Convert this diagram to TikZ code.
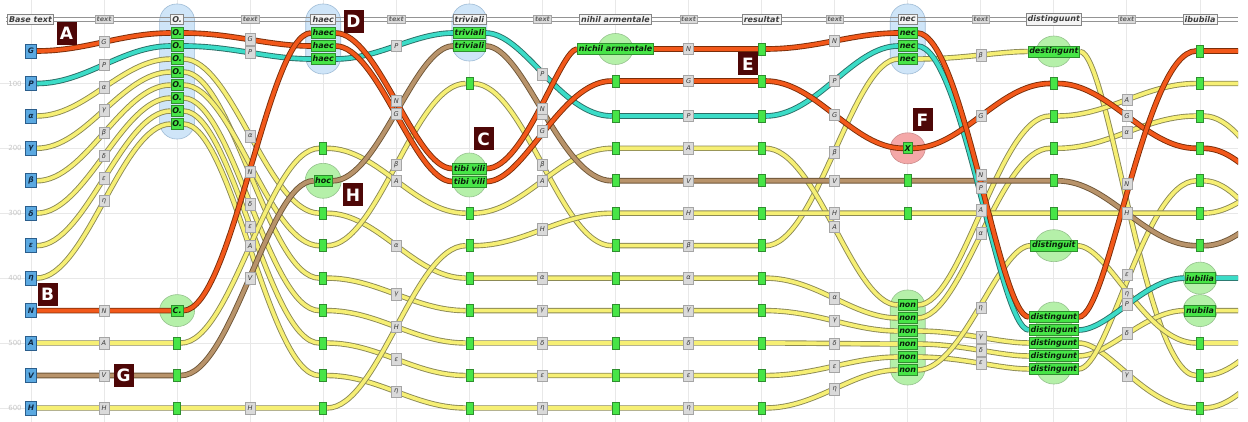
\documentclass[tikz,border=0pt]{standalone}
\usepackage{fontspec}
\newfontfamily\dv{DejaVu Sans}
\pgfdeclarelayer{back}
\pgfdeclarelayer{thr}
\pgfsetlayers{back,thr,main}
\definecolor{yelf}{HTML}{F6EF74}
\definecolor{yelbd}{HTML}{8C8A55}
\definecolor{orgf}{HTML}{F2581A}
\definecolor{orgbd}{HTML}{7A2E0A}
\definecolor{cyaf}{HTML}{3BDCC7}
\definecolor{cyabd}{HTML}{2B6E66}
\definecolor{brnf}{HTML}{B8936A}
\definecolor{brnbd}{HTML}{6E5638}
\definecolor{grfill}{HTML}{47E547}
\definecolor{grbd}{HTML}{2F8F2F}
\definecolor{grtext}{HTML}{0A1F0A}
\definecolor{gbgf}{HTML}{B5F0A9}
\definecolor{gbgbd}{HTML}{95C28D}
\definecolor{bbgf}{HTML}{CFE5F8}
\definecolor{bbgbd}{HTML}{9FBCD6}
\definecolor{rbgf}{HTML}{F4A8A8}
\definecolor{rbgbd}{HTML}{CC8C8C}
\definecolor{basef}{HTML}{5BA9E1}
\definecolor{basebd}{HTML}{2B5E8C}
\definecolor{basetx}{HTML}{102A44}
\definecolor{labf}{HTML}{DADADA}
\definecolor{labbd}{HTML}{A5A5A5}
\definecolor{labtx}{HTML}{3A3A3A}
\definecolor{tagf}{HTML}{4E0707}
\definecolor{gridc}{HTML}{E8E8E8}
\definecolor{hdrf}{HTML}{F4F4F4}
\definecolor{hdrbd}{HTML}{858585}
\definecolor{hdrtx}{HTML}{3C3C3C}
\def\Sc{.. controls +(55,0) and +(-55,0) ..}
\tikzset{
  basesq/.style={draw=basebd, fill=basef, line width=0.6pt, minimum width=11pt, minimum height=14pt, inner sep=0pt, text=basetx, font=\dv\bfseries\itshape\fontsize{7.5}{7.5}\selectfont},
  thlab/.style={draw=labbd, fill=labf, line width=0.5pt, minimum width=10pt, minimum height=11.5pt, inner sep=0.8pt, text=labtx, font=\dv\itshape\fontsize{6.6}{6.6}\selectfont},
  grsq/.style={draw=grbd, fill=grfill, line width=0.6pt, minimum width=7pt, minimum height=12pt, inner sep=0pt},
  grtx/.style={draw=grbd, fill=grfill, line width=0.6pt, minimum height=11pt, inner sep=1.3pt, text=grtext, font=\dv\bfseries\itshape\fontsize{8}{8}\selectfont},
  hdrbox/.style={draw=hdrbd, fill=hdrf, line width=0.6pt, minimum height=10.5pt, inner sep=1.8pt, text=hdrtx, font=\dv\bfseries\itshape\fontsize{8}{8}\selectfont},
  txtbox/.style={draw=labbd, fill=labf, line width=0.5pt, minimum height=8.5pt, inner sep=1.3pt, text=black!60, font=\dv\bfseries\itshape\fontsize{6.5}{6.5}\selectfont},
  lettag/.style={fill=tagf, minimum width=20pt, minimum height=23pt, inner sep=0pt, text=white, font=\dv\bfseries\fontsize{17}{17}\selectfont},
  gridlab/.style={inner sep=1pt, text=black!22, font=\dv\fontsize{7}{7}\selectfont},
  gridln/.style={draw=gridc, line width=0.9pt},
  hdrln/.style={draw=black!42, line width=0.8pt},
  bluebg/.style={draw=bbgbd, fill=bbgf, line width=0.6pt, rounded corners=17pt},
  greenbg/.style={draw=gbgbd, fill=gbgf, line width=0.6pt, rounded corners=17pt},
  thY/.style={draw=yelbd, double=yelf, double distance=3.6pt, line width=0.9pt},
  thO/.style={draw=orgbd, double=orgf, double distance=3.8pt, line width=0.9pt},
  thC/.style={draw=cyabd, double=cyaf, double distance=3.8pt, line width=0.9pt},
  thB/.style={draw=brnbd, double=brnf, double distance=3.8pt, line width=0.9pt},
}
\begin{document}
\begin{tikzpicture}[x=1pt,y=-1pt]
\useasboundingbox (0,0) rectangle (1248,422);
\begin{pgfonlayer}{back}
\fill[white] (0,0) rectangle (1248,422);
\foreach \k in {0,...,16} \draw[gridln] ({31+73.0625*\k},0) -- ({31+73.0625*\k},422);
\foreach \yy in {83.5,148.3,213.2,278.1,343,408} \draw[gridln] (0,\yy) -- (1238,\yy);
% group backgrounds
\draw[bluebg] (159.6,4) rectangle (194.6,139);
\draw[bluebg] (305.7,4) rectangle (340.7,74);
\draw[bluebg] (451.9,4) rectangle (486.9,61);
\draw[bluebg] (890.2,4) rectangle (925.2,74);
\draw[greenbg] (452.4,153) rectangle (486.4,197);
\draw[greenbg] (890.2,290) rectangle (925.2,385);
\draw[greenbg] (1036.3,302) rectangle (1071.3,384);
\draw[draw=gbgbd, fill=gbgf, line width=0.6pt] (177.1,310.6) ellipse [x radius=17.5pt, y radius=16pt];
\draw[draw=gbgbd, fill=gbgf, line width=0.6pt] (323.2,180.8) ellipse [x radius=18pt, y radius=17.5pt];
\draw[draw=gbgbd, fill=gbgf, line width=0.6pt] (615.5,49) ellipse [x radius=17.5pt, y radius=15.5pt];
\draw[draw=rbgbd, fill=rbgf, line width=0.6pt] (907.7,148.3) ellipse [x radius=17.5pt, y radius=15.5pt];
\draw[draw=gbgbd, fill=gbgf, line width=0.6pt] (1053.8,51.5) ellipse [x radius=17.5pt, y radius=15.5pt];
\draw[draw=gbgbd, fill=gbgf, line width=0.6pt] (1053.8,245.7) ellipse [x radius=19pt, y radius=16pt];
\draw[draw=gbgbd, fill=gbgf, line width=0.6pt] (1200,278.1) ellipse [x radius=17pt, y radius=16pt];
\draw[draw=gbgbd, fill=gbgf, line width=0.6pt] (1200,310.6) ellipse [x radius=17pt, y radius=16pt];
% header line
\draw[hdrln] (6,17.8) -- (1238,17.8);
\draw[hdrln] (6,21.2) -- (1238,21.2);
\end{pgfonlayer}
% grid labels
\node[gridlab] (gl1) at (15,83.5) {100};
\node[gridlab] (gl2) at (15,148.3) {200};
\node[gridlab] (gl3) at (15,213.2) {300};
\node[gridlab] (gl4) at (15,278.1) {400};
\node[gridlab] (gl5) at (15,343) {500};
\node[gridlab] (gl6) at (15,408) {600};
% header
\node[hdrbox] (h0) at (30.5,19.5) {Base text};
\node[hdrbox] (h2) at (177.1,19.5) {O.};
\node[hdrbox] (h4) at (323.2,19.5) {haec};
\node[hdrbox] (h6) at (469.4,19.5) {triviali};
\node[hdrbox] (h8) at (615.5,19.5) {nihil armentale};
\node[hdrbox] (h10) at (761.6,19.5) {resultat};
\node[hdrbox] (h12) at (907.7,19.5) {nec};
\node[hdrbox] (h14) at (1053.8,19.5) {distinguunt};
\node[hdrbox] (h16) at (1200,19.5) {ibubila};
\foreach \k in {1,3,...,15} \node[txtbox] (t\k) at ({31+73.0625*\k},19.5) {text};
% column 0
\node[basesq] (G0) at (31,51) {G};
\node[basesq] (P0) at (31,83.5) {P};
\node[basesq] (al0) at (31,116) {α};
\node[basesq] (ga0) at (31,148.3) {γ};
\node[basesq] (be0) at (31,180.8) {β};
\node[basesq] (de0) at (31,213.2) {δ};
\node[basesq] (ep0) at (31,245.7) {ε};
\node[basesq] (et0) at (31,278.1) {η};
\node[basesq] (N0) at (31,310.6) {N};
\node[basesq] (A0) at (31,343) {A};
\node[basesq] (V0) at (31,375.5) {V};
\node[basesq] (H0) at (31,408) {H};
% column 2
\node[grtx] (G2) at (177.1,33) {O.};
\node[grtx] (P2) at (177.1,46) {O.};
\node[grtx] (al2) at (177.1,59) {O.};
\node[grtx] (ga2) at (177.1,72) {O.};
\node[grtx] (be2) at (177.1,85) {O.};
\node[grtx] (de2) at (177.1,98) {O.};
\node[grtx] (ep2) at (177.1,111) {O.};
\node[grtx] (et2) at (177.1,124) {O.};
\node[grtx] (N2) at (177.1,310.6) {C.};
\node[grsq] (A2) at (177.1,343) {};
\node[grsq] (V2) at (177.1,375.5) {};
\node[grsq] (H2) at (177.1,408) {};
% column 4
\node[grtx] (N4) at (323.2,33) {haec};
\node[grtx] (G4) at (323.2,46) {haec};
\node[grtx] (P4) at (323.2,59) {haec};
\node[grsq] (A4) at (323.2,148.3) {};
\node[grtx] (V4) at (323.2,180.8) {hoc};
\node[grsq] (al4) at (323.2,213.2) {};
\node[grsq] (be4) at (323.2,245.7) {};
\node[grsq] (ga4) at (323.2,278.1) {};
\node[grsq] (de4) at (323.2,310.6) {};
\node[grsq] (ep4) at (323.2,343) {};
\node[grsq] (et4) at (323.2,375.5) {};
\node[grsq] (H4) at (323.2,408) {};
% column 6
\node[grtx] (P6) at (469.4,33) {triviali};
\node[grtx] (V6) at (469.4,46) {triviali};
\node[grsq] (be6) at (469.4,83.5) {};
\node[grtx] (N6) at (469.4,168.5) {tibi vili};
\node[grtx] (G6) at (469.4,181.5) {tibi vili};
\node[grsq] (A6) at (469.4,213.2) {};
\node[grsq] (H6) at (469.4,245.7) {};
\node[grsq] (al6) at (469.4,278.1) {};
\node[grsq] (ga6) at (469.4,310.6) {};
\node[grsq] (de6) at (469.4,343) {};
\node[grsq] (ep6) at (469.4,375.5) {};
\node[grsq] (et6) at (469.4,408) {};
% column 8
\node[grtx] (N8) at (615.5,49) {nichil armentale};
\node[grsq] (G8) at (615.5,81) {};
\node[grsq] (P8) at (615.5,116) {};
\node[grsq] (A8) at (615.5,148.3) {};
\node[grsq] (V8) at (615.5,180.8) {};
\node[grsq] (H8) at (615.5,213.2) {};
\node[grsq] (be8) at (615.5,245.7) {};
\node[grsq] (al8) at (615.5,278.1) {};
\node[grsq] (ga8) at (615.5,310.6) {};
\node[grsq] (de8) at (615.5,343) {};
\node[grsq] (ep8) at (615.5,375.5) {};
\node[grsq] (et8) at (615.5,408) {};
% column 10
\node[grsq] (N10) at (761.6,49) {};
\node[grsq] (G10) at (761.6,81) {};
\node[grsq] (P10) at (761.6,116) {};
\node[grsq] (A10) at (761.6,148.3) {};
\node[grsq] (V10) at (761.6,180.8) {};
\node[grsq] (H10) at (761.6,213.2) {};
\node[grsq] (be10) at (761.6,245.7) {};
\node[grsq] (al10) at (761.6,278.1) {};
\node[grsq] (ga10) at (761.6,310.6) {};
\node[grsq] (de10) at (761.6,343) {};
\node[grsq] (ep10) at (761.6,375.5) {};
\node[grsq] (et10) at (761.6,408) {};
% column 12
\node[grtx] (N12) at (907.7,33) {nec};
\node[grtx] (P12) at (907.7,46) {nec};
\node[grtx] (be12) at (907.7,59) {nec};
\node[grtx] (G12) at (907.7,148.3) {X};
\node[grsq] (V12) at (907.7,180.8) {};
\node[grsq] (H12) at (907.7,213.2) {};
\node[grtx] (A12) at (907.7,305) {non};
\node[grtx] (al12) at (907.7,318) {non};
\node[grtx] (ga12) at (907.7,331) {non};
\node[grtx] (de12) at (907.7,344) {non};
\node[grtx] (ep12) at (907.7,357) {non};
\node[grtx] (et12) at (907.7,370) {non};
% column 14
\node[grtx] (be14) at (1053.8,51.5) {destingunt};
\node[grsq] (G14) at (1053.8,83.5) {};
\node[grsq] (A14) at (1053.8,116) {};
\node[grsq] (al14) at (1053.8,148.3) {};
\node[grsq] (V14) at (1053.8,180.8) {};
\node[grsq] (H14) at (1053.8,213.2) {};
\node[grtx] (et14) at (1053.8,245.7) {distinguit};
\node[grtx] (N14) at (1053.8,317) {distingunt};
\node[grtx] (P14) at (1053.8,330) {distingunt};
\node[grtx] (ga14) at (1053.8,343) {distingunt};
\node[grtx] (de14) at (1053.8,356) {distingunt};
\node[grtx] (ep14) at (1053.8,369) {distingunt};
% column 16
\node[grsq] (N16) at (1200,51) {};
\node[grsq] (A16) at (1200,83.5) {};
\node[grsq] (al16) at (1200,116) {};
\node[grsq] (G16) at (1200,148.3) {};
\node[grsq] (ep16) at (1200,180.8) {};
\node[grsq] (H16) at (1200,213.2) {};
\node[grsq] (V16) at (1200,245.7) {};
\node[grtx] (P16) at (1200,278.1) {iubilia};
\node[grtx] (de16) at (1200,310.6) {nubila};
\node[grsq] (et16) at (1200,343) {};
\node[grsq] (be16) at (1200,375.5) {};
\node[grsq] (ga16) at (1200,408) {};
% free ends beyond the right edge
\coordinate (Ne) at (1346,51);
\coordinate (Ae) at (1346,83.5);
\coordinate (ale) at (1346,250);
\coordinate (Ge) at (1346,242);
\coordinate (epe) at (1346,304);
\coordinate (He) at (1346,138);
\coordinate (Ve) at (1346,164);
\coordinate (Pe) at (1346,278.1);
\coordinate (dee) at (1346,310.6);
\coordinate (ete) at (1346,343);
\coordinate (bee) at (1346,282);
\coordinate (gae) at (1346,312);
% threads
\begin{pgfonlayer}{thr}
\begin{scope}
\clip (0,0) rectangle (1238,422);
\draw[thY] (al0) \Sc (al2) \Sc (al4) \Sc (al6) \Sc (al8) \Sc (al10) \Sc (al12) \Sc (al14) \Sc (al16) \Sc (ale);
\draw[thY] (ga0) \Sc (ga2) \Sc (ga4) \Sc (ga6) \Sc (ga8) \Sc (ga10) \Sc (ga12) \Sc (ga14) \Sc (ga16) \Sc (gae);
\draw[thY] (be0) \Sc (be2) \Sc (be4) \Sc (be6) \Sc (be8) \Sc (be10) \Sc (be12) \Sc (be14) \Sc (be16) \Sc (bee);
\draw[thY] (de0) \Sc (de2) \Sc (de4) \Sc (de6) \Sc (de8) \Sc (de10) \Sc (de12) \Sc (de14) \Sc (de16) \Sc (dee);
\draw[thY] (ep0) \Sc (ep2) \Sc (ep4) \Sc (ep6) \Sc (ep8) \Sc (ep10) \Sc (ep12) \Sc (ep14) \Sc (ep16) \Sc (epe);
\draw[thY] (et0) \Sc (et2) \Sc (et4) \Sc (et6) \Sc (et8) \Sc (et10) \Sc (et12) \Sc (et14) \Sc (et16) \Sc (ete);
\draw[thY] (A0) \Sc (A2) \Sc (A4) \Sc (A6) \Sc (A8) \Sc (A10) \Sc (A12) \Sc (A14) \Sc (A16) \Sc (Ae);
\draw[thY] (H0) \Sc (H2) \Sc (H4) \Sc (H6) \Sc (H8) \Sc (H10) \Sc (H12) \Sc (H14) \Sc (H16) \Sc (He);
\draw[thB] (V0) \Sc (V2) \Sc (V4) \Sc (V6) \Sc (V8) \Sc (V10) \Sc (V12) \Sc (V14) \Sc (V16) \Sc (Ve);
\draw[thC] (P0) \Sc (P2) \Sc (P4) \Sc (P6) \Sc (P8) \Sc (P10) \Sc (P12) \Sc (P14) \Sc (P16) \Sc (Pe);
\draw[thO] (G0) \Sc (G2) \Sc (G4) \Sc (G6) \Sc (G8) \Sc (G10) \Sc (G12) \Sc (G14) \Sc (G16) \Sc (Ge);
\draw[thO] (N0) \Sc (N2) \Sc (N4) \Sc (N6) \Sc (N8) \Sc (N10) \Sc (N12) \Sc (N14) \Sc (N16) \Sc (Ne);
\end{scope}
\end{pgfonlayer}
% labels column 1
\node[thlab] (lG1) at (104,42) {G};
\node[thlab] (lP1) at (104,64.8) {P};
\node[thlab] (lal1) at (104,87.5) {α};
\node[thlab] (lga1) at (104,110.2) {γ};
\node[thlab] (lbe1) at (104,132.9) {β};
\node[thlab] (lde1) at (104,155.6) {δ};
\node[thlab] (lep1) at (104,178.4) {ε};
\node[thlab] (let1) at (104,201) {η};
\node[thlab] (lN1) at (104,310.6) {N};
\node[thlab] (lA1) at (104,343) {A};
\node[thlab] (lV1) at (104,375.5) {V};
\node[thlab] (lH1) at (104,408) {H};
% column 3
\node[thlab] (lG3) at (250.2,39.5) {G};
\node[thlab] (lP3) at (250.2,52.5) {P};
\node[thlab] (lal3) at (250.2,136.1) {α};
\node[thlab] (lN3) at (250.2,171.8) {N};
\node[thlab] (lde3) at (250.2,204.3) {δ};
\node[thlab] (lep3) at (250.2,227) {ε};
\node[thlab] (lA3) at (250.2,245.7) {A};
\node[thlab] (lV3) at (250.2,278.2) {V};
\node[thlab] (lH3) at (250.2,408) {H};
% column 5
\node[thlab] (lP5) at (396.3,46) {P};
\node[thlab] (lN5) at (396.3,100.8) {N};
\node[thlab] (lG5) at (396.3,113.8) {G};
\node[thlab] (lbe5) at (396.3,164.6) {β};
\node[thlab] (lA5) at (396.3,180.8) {A};
\node[thlab] (lal5) at (396.3,245.7) {α};
\node[thlab] (lga5) at (396.3,294.4) {γ};
\node[thlab] (lH5) at (396.3,326.9) {H};
\node[thlab] (lep5) at (396.3,359.3) {ε};
\node[thlab] (let5) at (396.3,391.8) {η};
% column 7
\node[thlab] (lP7) at (542.4,74.5) {P};
\node[thlab] (lV7) at (542.4,113.4) {V};
\node[thlab] (lN7) at (542.4,108.8) {N};
\node[thlab] (lG7) at (542.4,131.3) {G};
\node[thlab] (lbe7) at (542.4,164.6) {β};
\node[thlab] (lA7) at (542.4,180.8) {A};
\node[thlab] (lH7) at (542.4,229.5) {H};
\node[thlab] (lal7) at (542.4,278.1) {α};
\node[thlab] (lga7) at (542.4,310.6) {γ};
\node[thlab] (lde7) at (542.4,343) {δ};
\node[thlab] (lep7) at (542.4,375.5) {ε};
\node[thlab] (let7) at (542.4,408) {η};
% column 9
\node[thlab] (lN9) at (688.6,49) {N};
\node[thlab] (lG9) at (688.6,81) {G};
\node[thlab] (lP9) at (688.6,116) {P};
\node[thlab] (lA9) at (688.6,148.3) {A};
\node[thlab] (lV9) at (688.6,180.8) {V};
\node[thlab] (lH9) at (688.6,213.2) {H};
\node[thlab] (lbe9) at (688.6,245.7) {β};
\node[thlab] (lal9) at (688.6,278.1) {α};
\node[thlab] (lga9) at (688.6,310.6) {γ};
\node[thlab] (lde9) at (688.6,343) {δ};
\node[thlab] (lep9) at (688.6,375.5) {ε};
\node[thlab] (let9) at (688.6,408) {η};
% column 11
\node[thlab] (lN11) at (834.7,41) {N};
\node[thlab] (lP11) at (834.7,81) {P};
\node[thlab] (lG11) at (834.7,114.7) {G};
\node[thlab] (lbe11) at (834.7,152.4) {β};
\node[thlab] (lV11) at (834.7,180.8) {V};
\node[thlab] (lH11) at (834.7,213.2) {H};
\node[thlab] (lA11) at (834.7,226.7) {A};
\node[thlab] (lal11) at (834.7,298) {α};
\node[thlab] (lga11) at (834.7,320.8) {γ};
\node[thlab] (lde11) at (834.7,343.5) {δ};
\node[thlab] (lep11) at (834.7,366.3) {ε};
\node[thlab] (let11) at (834.7,389) {η};
% column 13
\node[thlab] (lbe13) at (980.8,55.3) {β};
\node[thlab] (lG13) at (980.8,115.9) {G};
\node[thlab] (lN13) at (980.8,175) {N};
\node[thlab] (lP13) at (980.8,188) {P};
\node[thlab] (lA13) at (980.8,210.5) {A};
\node[thlab] (lal13) at (980.8,233.2) {α};
\node[thlab] (let13) at (980.8,307.9) {η};
\node[thlab] (lga13) at (980.8,337) {γ};
\node[thlab] (lde13) at (980.8,350) {δ};
\node[thlab] (lep13) at (980.8,363) {ε};
% column 15
\node[thlab] (lA15) at (1126.9,99.8) {A};
\node[thlab] (lG15) at (1126.9,115.9) {G};
\node[thlab] (lal15) at (1126.9,132.2) {α};
\node[thlab] (lN15) at (1126.9,184) {N};
\node[thlab] (lH15) at (1126.9,213.2) {H};
\node[thlab] (lep15) at (1126.9,274.9) {ε};
\node[thlab] (let15) at (1126.9,294.4) {η};
\node[thlab] (lP15) at (1126.9,304) {P};
\node[thlab] (lde15) at (1126.9,333.3) {δ};
\node[thlab] (lga15) at (1126.9,375.5) {γ};
% letter tags
\node[lettag] (mA) at (66.5,33.5) {A};
\node[lettag] (mB) at (47.5,294) {B};
\node[lettag] (mC) at (483.5,139) {C};
\node[lettag] (mD) at (353.5,21.5) {D};
\node[lettag] (mE) at (748,64) {E};
\node[lettag] (mF) at (922.5,120) {F};
\node[lettag] (mG) at (123.5,375.5) {G};
\node[lettag] (mH) at (353,195) {H};
\end{tikzpicture}
\end{document}
